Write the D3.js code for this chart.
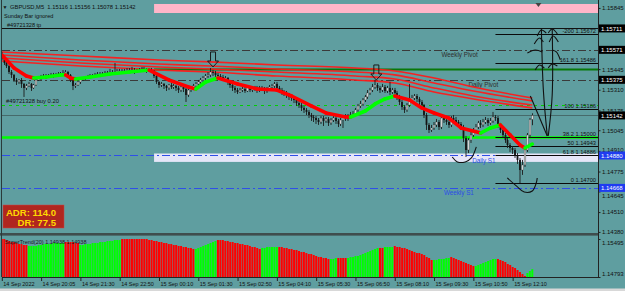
<!DOCTYPE html>
<html><head><meta charset="utf-8">
<script src="https://cdn.jsdelivr.net/npm/d3@7"></script>
<style>
html,body{margin:0;padding:0;background:#5f9ea0;overflow:hidden}
svg{display:block}
text{font-family:"Liberation Sans",Arial,sans-serif;white-space:pre}
</style></head><body>
<svg id="c" width="625" height="291"></svg>
<script>
// ---------------- DATA ----------------
const symbolHeader = "GBPUSD,M5  1.15116 1.15156 1.15078 1.15142";
const firstOpen = 1.15544;
const close = [
1.15518,1.15485,1.15465,1.15426,1.15407,1.15374,1.15361,1.15374,1.15348,1.15322,1.15335,1.15348,1.15322,1.15341,1.15374,1.15387,
1.15393,1.15400,1.15393,1.15400,1.15407,1.15400,1.15407,1.15413,1.15413,1.15420,1.15426,1.15407,1.15374,1.15335,1.15341,1.15361,
1.15374,1.15380,1.15387,1.15393,1.15400,1.15400,1.15407,1.15413,1.15407,1.15413,1.15420,1.15420,1.15426,1.15420,1.15426,1.15433,
1.15433,1.15426,1.15433,1.15439,1.15433,1.15439,1.15426,1.15433,1.15439,1.15446,1.15439,1.15433,1.15439,1.15433,1.15400,1.15361,
1.15341,1.15348,1.15335,1.15322,1.15341,1.15328,1.15335,1.15322,1.15308,1.15328,1.15315,1.15276,1.15308,1.15322,1.15335,1.15348,
1.15361,1.15374,1.15387,1.15400,1.15407,1.15426,1.15420,1.15407,1.15400,1.15393,1.15380,1.15387,1.15361,1.15341,1.15322,1.15308,
1.15295,1.15308,1.15315,1.15302,1.15322,1.15308,1.15315,1.15322,1.15308,1.15322,1.15315,1.15302,1.15315,1.15328,1.15335,1.15348,
1.15322,1.15308,1.15295,1.15289,1.15276,1.15263,1.15256,1.15243,1.15223,1.15210,1.15191,1.15178,1.15165,1.15145,1.15132,1.15125,
1.15112,1.15099,1.15125,1.15106,1.15119,1.15093,1.15112,1.15125,1.15106,1.15086,1.15112,1.15132,1.15125,1.15138,1.15145,1.15151,
1.15178,1.15204,1.15217,1.15243,1.15263,1.15289,1.15308,1.15328,1.15341,1.15322,1.15308,1.15328,1.15302,1.15322,1.15295,1.15308,
1.15289,1.15263,1.15230,1.15197,1.15178,1.15210,1.15243,1.15256,1.15269,1.15250,1.15230,1.15210,1.15145,1.15080,1.15047,1.15060,
1.15080,1.15099,1.15066,1.15125,1.15112,1.15099,1.15080,1.15125,1.15112,1.15099,1.15086,1.15066,1.14994,1.14916,1.14981,1.15014,
1.15047,1.15066,1.15093,1.15080,1.15099,1.15112,1.15093,1.15106,1.15132,1.15125,1.15080,1.15047,1.15014,1.14981,1.14949,1.14929,
1.14916,1.14883,1.14851,1.14785,1.14818,1.14916,1.15014,1.15116,1.15142];
const high = [
1.15557,1.15524,1.15498,1.15472,1.15439,1.15413,1.15387,1.15380,1.15387,1.15354,1.15348,1.15361,1.15354,1.15348,1.15387,1.15400,
1.15407,1.15413,1.15413,1.15413,1.15420,1.15420,1.15420,1.15426,1.15426,1.15439,1.15439,1.15433,1.15413,1.15380,1.15354,1.15367,
1.15380,1.15393,1.15400,1.15407,1.15413,1.15413,1.15420,1.15426,1.15426,1.15426,1.15433,1.15433,1.15446,1.15439,1.15485,1.15446,
1.15446,1.15446,1.15446,1.15452,1.15452,1.15459,1.15452,1.15446,1.15452,1.15459,1.15459,1.15452,1.15452,1.15452,1.15439,1.15407,
1.15367,1.15361,1.15354,1.15341,1.15348,1.15354,1.15348,1.15341,1.15335,1.15341,1.15335,1.15322,1.15322,1.15335,1.15348,1.15361,
1.15374,1.15387,1.15400,1.15413,1.15426,1.15452,1.15439,1.15433,1.15420,1.15413,1.15407,1.15400,1.15393,1.15367,1.15348,1.15335,
1.15322,1.15322,1.15328,1.15328,1.15335,1.15335,1.15328,1.15335,1.15335,1.15335,1.15335,1.15328,1.15328,1.15341,1.15348,1.15361,
1.15361,1.15335,1.15322,1.15308,1.15302,1.15289,1.15276,1.15269,1.15256,1.15237,1.15223,1.15204,1.15191,1.15178,1.15158,1.15145,
1.15138,1.15125,1.15138,1.15138,1.15132,1.15132,1.15125,1.15145,1.15138,1.15119,1.15125,1.15145,1.15151,1.15151,1.15165,1.15171,
1.15191,1.15217,1.15237,1.15256,1.15276,1.15308,1.15322,1.15348,1.15374,1.15354,1.15335,1.15348,1.15341,1.15335,1.15361,1.15322,
1.15322,1.15302,1.15276,1.15243,1.15210,1.15223,1.15348,1.15276,1.15282,1.15282,1.15263,1.15243,1.15217,1.15158,1.15093,1.15080,
1.15099,1.15119,1.15112,1.15138,1.15145,1.15132,1.15112,1.15138,1.15145,1.15132,1.15112,1.15099,1.15080,1.15008,1.14994,1.15034,
1.15060,1.15086,1.15106,1.15112,1.15119,1.15132,1.15125,1.15125,1.15165,1.15145,1.15138,1.15093,1.15060,1.15027,1.14994,1.14962,
1.14942,1.14929,1.14896,1.14864,1.14851,1.14929,1.15027,1.15125,1.15156];
const low = [
1.15505,1.15472,1.15452,1.15413,1.15387,1.15361,1.15341,1.15348,1.15322,1.15263,1.15308,1.15328,1.15302,1.15315,1.15335,1.15367,
1.15374,1.15387,1.15380,1.15387,1.15393,1.15387,1.15393,1.15400,1.15400,1.15407,1.15413,1.15393,1.15361,1.15308,1.15322,1.15335,
1.15348,1.15367,1.15374,1.15380,1.15387,1.15387,1.15393,1.15400,1.15393,1.15400,1.15407,1.15407,1.15413,1.15407,1.15413,1.15420,
1.15420,1.15413,1.15420,1.15426,1.15420,1.15426,1.15413,1.15420,1.15426,1.15433,1.15426,1.15420,1.15426,1.15420,1.15387,1.15348,
1.15322,1.15328,1.15315,1.15302,1.15308,1.15315,1.15315,1.15302,1.15289,1.15295,1.15295,1.15230,1.15263,1.15295,1.15308,1.15328,
1.15335,1.15348,1.15361,1.15374,1.15387,1.15393,1.15400,1.15387,1.15380,1.15374,1.15367,1.15367,1.15341,1.15322,1.15302,1.15289,
1.15282,1.15289,1.15295,1.15289,1.15295,1.15295,1.15295,1.15302,1.15289,1.15295,1.15302,1.15282,1.15289,1.15308,1.15315,1.15322,
1.15308,1.15289,1.15276,1.15269,1.15256,1.15243,1.15237,1.15223,1.15204,1.15191,1.15171,1.15158,1.15145,1.15125,1.15106,1.15099,
1.15086,1.15080,1.15086,1.15073,1.15093,1.15073,1.15080,1.15099,1.15086,1.15066,1.15073,1.15060,1.15106,1.15106,1.15125,1.15132,
1.15138,1.15165,1.15191,1.15204,1.15230,1.15250,1.15276,1.15295,1.15315,1.15302,1.15289,1.15295,1.15289,1.15289,1.15276,1.15282,
1.15269,1.15243,1.15210,1.15178,1.15158,1.15165,1.15197,1.15230,1.15243,1.15230,1.15210,1.15191,1.15125,1.15047,1.15027,1.15034,
1.15047,1.15066,1.15047,1.15053,1.15093,1.15080,1.15060,1.15066,1.15093,1.15080,1.15066,1.15047,1.14968,1.14870,1.14896,1.14962,
1.15001,1.15034,1.15053,1.15060,1.15066,1.15086,1.15073,1.15080,1.15093,1.15106,1.15060,1.15027,1.14994,1.14962,1.14929,1.14903,
1.14890,1.14864,1.14825,1.14700,1.14753,1.14805,1.14903,1.14994,1.15078];

// moving averages (4 red lines), sampled at bar indices
const maBars = [0,32,64,85,112,144,160,176,192,216];
const ma1 = [1.15557,1.15531,1.15505,1.15492,1.15472,1.15452,1.15433,1.15387,1.15328,1.15256];
const ma2 = [1.15537,1.15505,1.15478,1.15465,1.15446,1.15426,1.15407,1.15354,1.15302,1.15237];
const ma3 = [1.15518,1.15485,1.15459,1.15446,1.15426,1.15400,1.15380,1.15322,1.15269,1.15210];
const ma4 = [1.15498,1.15465,1.15439,1.15426,1.15400,1.15374,1.15354,1.15295,1.15250,1.15191];

// thick trend line (colour of segment starting at point)
const trendBars  = [0,5,10,13,18,24,26,28,30,36,44,52,60,68,76,79,83,88,96,104,112,118,126,132,140,142,148,152,156,160,166,171,176,182,187,195,199,203,207,211,213,216];
const trendVals  = [1.15537,1.15452,1.15400,1.15387,1.15393,1.15407,1.15407,1.15387,1.15380,1.15393,1.15413,1.15426,1.15439,1.15374,1.15328,1.15315,1.15361,1.15387,1.15348,1.15315,1.15308,1.15269,1.15204,1.15158,1.15132,1.15132,1.15171,1.15217,1.15250,1.15269,1.15243,1.15191,1.15158,1.15125,1.15060,1.15027,1.15060,1.15080,1.15014,1.14949,1.14929,1.14955];
const trendDir   = ["dn","dn","dn","up","up","up","dn","dn","up","up","up","up","dn","dn","dn","up","up","dn","dn","dn","dn","dn","dn","dn","dn","up","up","up","up","dn","dn","dn","dn","dn","dn","up","up","dn","dn","dn","up","up"];

// horizontal levels
const levelNames  = ["tp","Weekly Pivot","Resistance","Daily Pivot","buy","Bid","Level 1.15000","Daily S1","Weekly S1"];
const levelPrices = [1.15711,1.15571,1.15445,1.15375,1.15210,1.15142,1.15000,1.14880,1.14668];
const dayStartBar = 62;
const s1ZoneTop = 1.14893, s1ZoneBottom = 1.14838;
const pinkZoneTop = 1.15871, pinkZoneBottom = 1.15812;

// fibonacci
const fibStartBar = 201;
const fibLabels = ["-200","161.8","100","38.2","50","61.8","0"];
const fibPrices = [1.15672,1.15486,1.15186,1.15000,1.14943,1.14886,1.14700];

// signal arrows (bar, price of tip)
const arrowBars = [86,152.5];
const arrowTips = [1.15459,1.15374];

// hand drawn strokes (bar, price)
const sketches = [
 [[219.7,1.15714],[220.5,1.15308],[222.1,1.15008]],
 [[224.1,1.15714],[224.1,1.15276],[222.5,1.15008]],
 [[215.2,1.15269],[222.1,1.15008]],
 [[216.8,1.15609],[218.9,1.15648],[220.5,1.15622]],
 [[218.0,1.15662],[219.7,1.15701],[221.7,1.15681]],
 [[222.5,1.15681],[224.1,1.15707],[226.2,1.15675]],
 [[222.9,1.15622],[224.5,1.15662],[226.6,1.15622]],
 [[214.0,1.15550],[217.2,1.15570],[220.1,1.15557]],
 [[224.1,1.15570],[225.8,1.15557],[227.4,1.15505]],
 [[217.2,1.15439],[218.9,1.15472],[220.9,1.15452]],
 [[222.5,1.15452],[224.1,1.15478],[226.2,1.15465]],
 [[183.4,1.14870],[185.5,1.14838],[188.7,1.14838],[191.2,1.14864],[193.2,1.14936]],
 [[205.8,1.14733],[209.5,1.14681],[212.7,1.14641],[216.0,1.14648],[217.6,1.14700],[218.0,1.14733]]
];

// price axis
const priceTicks = [1.15845,1.15710,1.15575,1.15445,1.15310,1.15175,1.15045,1.14910,1.14775,1.14645,1.14510,1.14380];
const boxPrices = [1.15711,1.15571,1.15375,1.15142,1.14880,1.14668];
const boxKinds  = ["k","k","k","k","b","b"];

// time axis
const timeTickBars = [0,16,32,48,64,80,96,112,128,144,160,176,192,208];
const timeLabels = ["14 Sep 2022","14 Sep 20:05","14 Sep 21:30","14 Sep 22:50","15 Sep 00:10","15 Sep 01:30","15 Sep 02:50","15 Sep 04:10","15 Sep 05:30","15 Sep 06:50","15 Sep 08:10","15 Sep 09:30","15 Sep 10:50","15 Sep 12:10"];

// SuperTrend(20) histogram
const stValues = [
1.15495,1.15495,1.15476,1.15458,1.15439,1.15439,1.15421,1.15402,1.15402,1.15384,1.15384,
1.15366,1.15366,1.15366,1.15366,1.15384,1.15384,1.15402,1.15402,1.15402,1.15402,1.15421,1.15421,1.15421,1.15421,1.15421,
1.15439,1.15439,1.15439,1.15439,1.15421,1.15421,
1.15384,1.15384,1.15402,1.15402,1.15402,1.15421,1.15421,1.15421,1.15439,1.15439,1.15439,1.15458,1.15458,1.15458,1.15476,1.15476,1.15476,
1.15495,1.15495,1.15495,1.15495,1.15495,1.15495,1.15495,1.15495,1.15495,1.15495,1.15495,1.15476,1.15476,
1.15458,1.15458,1.15439,1.15439,1.15421,1.15421,1.15402,1.15402,1.15384,1.15384,1.15366,1.15366,1.15347,1.15347,1.15329,1.15329,1.15310,
1.15310,1.15329,1.15347,1.15366,1.15384,1.15402,1.15421,1.15439,1.15458,
1.15476,1.15476,1.15476,1.15458,1.15458,1.15439,1.15439,1.15421,1.15421,1.15402,1.15402,1.15384,1.15384,1.15366,1.15347,1.15347,1.15329,1.15310,
1.15329,1.15329,1.15347,1.15347,1.15347,1.15347,1.15347,
1.15347,1.15347,1.15329,1.15329,1.15310,1.15310,1.15292,1.15292,1.15273,1.15255,1.15255,1.15236,1.15218,1.15218,1.15199,1.15181,1.15162,1.15162,1.15144,1.15144,1.15125,
1.15125,1.15125,1.15144,
1.15144,1.15144,1.15144,1.15144,
1.15144,1.15162,1.15162,1.15181,1.15181,1.15199,1.15218,1.15236,1.15255,1.15273,1.15292,1.15310,1.15329,
1.15329,1.15329,
1.15347,1.15347,1.15347,1.15347,
1.15366,1.15347,1.15347,1.15329,1.15329,1.15310,1.15292,1.15273,1.15255,1.15236,1.15236,1.15218,1.15199,1.15162,1.15144,1.15107,
1.15107,1.15107,1.15125,1.15125,1.15125,1.15144,1.15144,
1.15162,1.15144,1.15125,1.15107,1.15089,1.15070,1.15052,1.15033,1.15015,1.14996,
1.14996,1.15015,1.15033,1.15052,1.15070,1.15089,1.15107,1.15125,1.15125,
1.15125,1.15107,1.15089,1.15070,1.15033,1.15015,1.14978,1.14959,1.14922,1.14885,1.14848,1.14811,
1.14867,1.14904,1.14938];
const stRunLengths = [11,15,6,17,30,9,18,7,21,3,4,13,2,4,16,7,10,9,12,3];
const stRunDirs    = ["dn","up","dn","up","dn","up","dn","up","dn","up","dn","up","dn","up","dn","up","dn","up","dn","up"];
const stScale = [1.14793,1.15495];
const adrText = ["ADR: 114.0","DR: 77.5"];

// ---------------- DRAW ----------------
const W=625,H=291, PL=2, PR=598, MAINB=233, SUBT=236, SUBB=277;
const BG="#5f9ea0";
const svg=d3.select("#c");
svg.append("rect").attr("width",W).attr("height",H).attr("fill",BG);

const x=d3.scaleLinear().domain([0,216]).range([1.8,532.3]);
const y=d3.scaleLinear().domain([1.14373,1.15897]).range([MAINB,0]);
const yh=d3.scaleLinear().domain(stScale).range([SUBB,239]);

const defs=svg.append("defs");
defs.append("clipPath").attr("id","mc").append("rect").attr("x",PL).attr("y",0).attr("width",PR-PL).attr("height",MAINB);
defs.append("clipPath").attr("id","sc").append("rect").attr("x",PL).attr("y",SUBT).attr("width",PR-PL).attr("height",SUBB-SUBT);
const main=svg.append("g").attr("clip-path","url(#mc)");

// zones
main.append("rect").attr("x",x(dayStartBar)).attr("width",PR-x(dayStartBar))
  .attr("y",y(pinkZoneTop)).attr("height",y(pinkZoneBottom)-y(pinkZoneTop)).attr("fill","#ffb6c9");
main.append("rect").attr("x",x(dayStartBar)).attr("width",PR-x(dayStartBar))
  .attr("y",y(s1ZoneTop)).attr("height",y(s1ZoneBottom)-y(s1ZoneTop)).attr("fill","#e6e6f8");

// levels
const levelStyle={
 "tp":{c:"#111",w:1,d:null,day:false},
 "Weekly Pivot":{c:"#3a3a3a",w:1,d:"8,3,2,3",day:false},
 "Resistance":{c:"#087808",w:2,d:null,day:true},
 "Daily Pivot":{c:"#3a3a3a",w:1,d:"8,3,2,3",day:false},
 "buy":{c:"#00d000",w:1,d:"3,4",day:false},
 "Bid":{c:"#466a6a",w:1,d:null,day:false},
 "Level 1.15000":{c:"#00ff00",w:2.5,d:null,day:false},
 "Daily S1":{c:"#2f4fe8",w:1,d:"8,3,2,3",day:false},
 "Weekly S1":{c:"#2f4fe8",w:1,d:"8,3,2,3",day:false}
};
levelNames.forEach((n,i)=>{
  const s=levelStyle[n];
  const yy=Math.round(y(levelPrices[i]))+0.5;
  main.append("line").attr("x1",s.day?x(dayStartBar):PL).attr("x2",PR)
    .attr("y1",yy).attr("y2",yy).attr("stroke",s.c).attr("stroke-width",s.w)
    .attr("stroke-dasharray",s.d);
});

// fib lines
fibPrices.forEach((p,i)=>{
  const yy=Math.round(y(p))+0.5;
  main.append("line").attr("x1",x(fibStartBar)).attr("x2",PR).attr("y1",yy).attr("y2",yy)
    .attr("stroke","#0a0a0a").attr("stroke-width",1);
  main.append("text").attr("x",PR-2).attr("y",yy-1.5).attr("text-anchor","end")
    .attr("font-size",5.7).attr("fill","#111").text(fibLabels[i]+" "+p.toFixed(5));
});

// level labels
const lblDefs=[["Weekly Pivot",179,"#2e2e2e"],["Daily Pivot",190,"#2e2e2e"],["Daily S1",191.5,"#2c4ce6"],["Weekly S1",180,"#2c4ce6"]];
lblDefs.forEach(([n,b,c])=>{
  const p=levelPrices[levelNames.indexOf(n)];
  main.append("text").attr("x",x(b)).attr("y",y(p)+7.5).attr("font-size",6.3).attr("fill",c).text(n);
});

// moving averages
const maLine=d3.line().x((d,i)=>x(maBars[i])).y(d=>y(d)).curve(d3.curveMonotoneX);
[ma1,ma2,ma3,ma4].forEach(m=>{
  main.append("path").attr("d",maLine(m)).attr("fill","none").attr("stroke","#ff1a1a").attr("stroke-width",1.6).attr("opacity",0.95);
});

// candles
const open=close.map((c,i)=>i===0?firstOpen:close[i-1]);
const cg=main.append("g");
close.forEach((c,i)=>{
  const o=open[i], hi=Math.max(high[i],o,c), lo=Math.min(low[i],o,c);
  const cx=Math.round(x(i)*2)/2;
  cg.append("line").attr("x1",cx).attr("x2",cx).attr("y1",y(hi)).attr("y2",y(lo)).attr("stroke","#1c1c1c").attr("stroke-width",0.9);
  const top=y(Math.max(o,c)), bot=y(Math.min(o,c));
  cg.append("rect").attr("x",cx-0.9).attr("width",1.8).attr("y",top).attr("height",Math.max(0.8,bot-top))
    .attr("fill",c>=o?"#d4d4d4":"#141414").attr("stroke",c>=o?"#2a2a2a":"none").attr("stroke-width",0.3);
});

// thick trend line
for(let k=0;k<trendBars.length-1;k++){
  main.append("line").attr("x1",x(trendBars[k])).attr("y1",y(trendVals[k]))
    .attr("x2",x(trendBars[k+1])).attr("y2",y(trendVals[k+1]))
    .attr("stroke",trendDir[k]==="dn"?"#ff0000":"#00ff00").attr("stroke-width",3.6).attr("stroke-linecap","round");
}

// arrows
arrowBars.forEach((b,i)=>{
  const cx=x(b), ty=y(arrowTips[i]);
  const p=`M${cx},${ty} L${cx-5.5},${ty-6} L${cx-2.5},${ty-6} L${cx-2.5},${ty-15} L${cx+2.5},${ty-15} L${cx+2.5},${ty-6} L${cx+5.5},${ty-6} Z`;
  main.append("path").attr("d",p).attr("fill","none").attr("stroke","#1a1a1a").attr("stroke-width",1);
});

// hand drawings
const sk=d3.line().x(d=>x(d[0])).y(d=>y(d[1])).curve(d3.curveCatmullRom);
sketches.forEach(s=>{
  main.append("path").attr("d",sk(s)).attr("fill","none").attr("stroke","#111").attr("stroke-width",1.1);
});

// shift marker
svg.append("path").attr("d",`M${x(218.5)-3},3 L${x(218.5)+3},3 L${x(218.5)},7 Z`).attr("fill","#444");

// top-left texts
const tl=svg.append("g").attr("fill","#111");
tl.append("text").attr("x",2.5).attr("y",9).attr("font-size",5).text("▼");
tl.append("text").attr("x",10).attr("y",9.2).attr("font-size",5.8).text(symbolHeader);
tl.append("text").attr("x",4).attr("y",18).attr("font-size",5.6).text("Sunday Bar ignored");
tl.append("text").attr("x",7).attr("y",26.5).attr("font-size",5.6).text("#49721328 tp");
tl.append("text").attr("x",6).attr("y",y(levelPrices[levelNames.indexOf("buy")])-2).attr("font-size",5.8).text("#49721328 buy 0.20");

// ADR box
svg.append("rect").attr("x",3).attr("y",205).attr("width",61).attr("height",23).attr("fill","#b0261f").attr("stroke","#c44").attr("stroke-width",0.5);
svg.append("text").attr("x",56).attr("y",215.5).attr("text-anchor","end").attr("font-family","'Liberation Serif','DejaVu Serif',serif").attr("font-weight","bold").attr("font-size",9.6).attr("fill","#ffd700").text(adrText[0]);
svg.append("text").attr("x",56).attr("y",226).attr("text-anchor","end").attr("font-family","'Liberation Serif','DejaVu Serif',serif").attr("font-weight","bold").attr("font-size",9.6).attr("fill","#ffd700").text(adrText[1]);

// separator
svg.append("rect").attr("x",0).attr("y",MAINB).attr("width",PR+1).attr("height",2.6).attr("fill","#3f4d4d");

// sub window histogram
const sub=svg.append("g").attr("clip-path","url(#sc)");
const stDir=[]; stRunLengths.forEach((n,k)=>{for(let j=0;j<n;j++)stDir.push(stRunDirs[k]);});
stValues.forEach((v,i)=>{
  const top=yh(v);
  sub.append("rect").attr("x",x(i)-1).attr("width",2).attr("y",top).attr("height",Math.max(0,SUBB-top))
    .attr("fill",stDir[i]==="dn"?"#ff0000":"#00ff00");
});
svg.append("text").attr("x",5).attr("y",243.5).attr("font-size",5.5).attr("fill","#1a1a1a")
  .text("SuperTrend(20) "+stValues[stValues.length-1].toFixed(5)+" "+stValues[stValues.length-1].toFixed(5));

// frame lines
svg.append("line").attr("x1",1.5).attr("x2",1.5).attr("y1",0).attr("y2",SUBB).attr("stroke","#2a3a3a").attr("stroke-width",1);
svg.append("line").attr("x1",PL).attr("x2",PR).attr("y1",SUBB+0.5).attr("y2",SUBB+0.5).attr("stroke","#222").attr("stroke-width",1);
svg.append("line").attr("x1",PR+0.5).attr("x2",PR+0.5).attr("y1",0).attr("y2",SUBB+1).attr("stroke","#222").attr("stroke-width",1);

// price axis
const ay=svg.append("g").attr("transform",`translate(${PR+0.5},0)`)
  .call(d3.axisRight(y).tickValues(priceTicks).tickFormat(d3.format(".5f")).tickSize(2).tickPadding(1.5));
ay.select(".domain").remove();
ay.selectAll("line").attr("stroke","#222");
ay.selectAll("text").attr("font-size",6).attr("fill","#111").attr("font-family","'Liberation Sans',Arial,sans-serif");
// labels partly covered by the blue markers sit just clear of them
ay.selectAll(".tick").filter(d=>d===1.14645).select("text").attr("dy","0.95em");
ay.selectAll(".tick").filter(d=>d===1.14910).select("text").attr("dy","0.15em");

// highlighted price boxes
boxPrices.forEach((p,i)=>{
  const yy=y(p);
  svg.append("rect").attr("x",PR+1).attr("y",yy-4).attr("width",W-PR-1).attr("height",8)
    .attr("fill",boxKinds[i]==="k"?"#000":"#1f3cf0");
  svg.append("text").attr("x",PR+3).attr("y",yy+2.1).attr("font-size",6).attr("fill","#fff").text(p.toFixed(5));
});

// sub axis
const ash=svg.append("g").attr("transform",`translate(${PR+0.5},0)`)
  .call(d3.axisRight(yh).tickValues(stScale).tickFormat(d3.format(".5f")).tickSize(2).tickPadding(1.5));
ash.select(".domain").remove();
ash.selectAll("line").attr("stroke","#222");
ash.selectAll("text").attr("font-size",6).attr("fill","#111").attr("font-family","'Liberation Sans',Arial,sans-serif");
ash.selectAll(".tick").filter(d=>d===stScale[1]).select("text").attr("dy","0.9em");
ash.selectAll(".tick").filter(d=>d===stScale[0]).select("text").attr("dy","-0.2em");

// time axis
const ax=svg.append("g").attr("transform",`translate(0,${SUBB+0.5})`)
  .call(d3.axisBottom(x).tickValues(timeTickBars).tickFormat((d,i)=>timeLabels[i]).tickSize(3.5).tickPadding(1));
ax.select(".domain").remove();
ax.selectAll("line").attr("stroke","#222");
ax.selectAll("text").attr("text-anchor","start").attr("dx",1).attr("font-size",5.5).attr("fill","#111").attr("font-family","'Liberation Sans',Arial,sans-serif");

// bottom strip
svg.append("rect").attr("x",0).attr("y",288.5).attr("width",W).attr("height",3).attr("fill","#d8d8d8");
</script>
</body></html>
